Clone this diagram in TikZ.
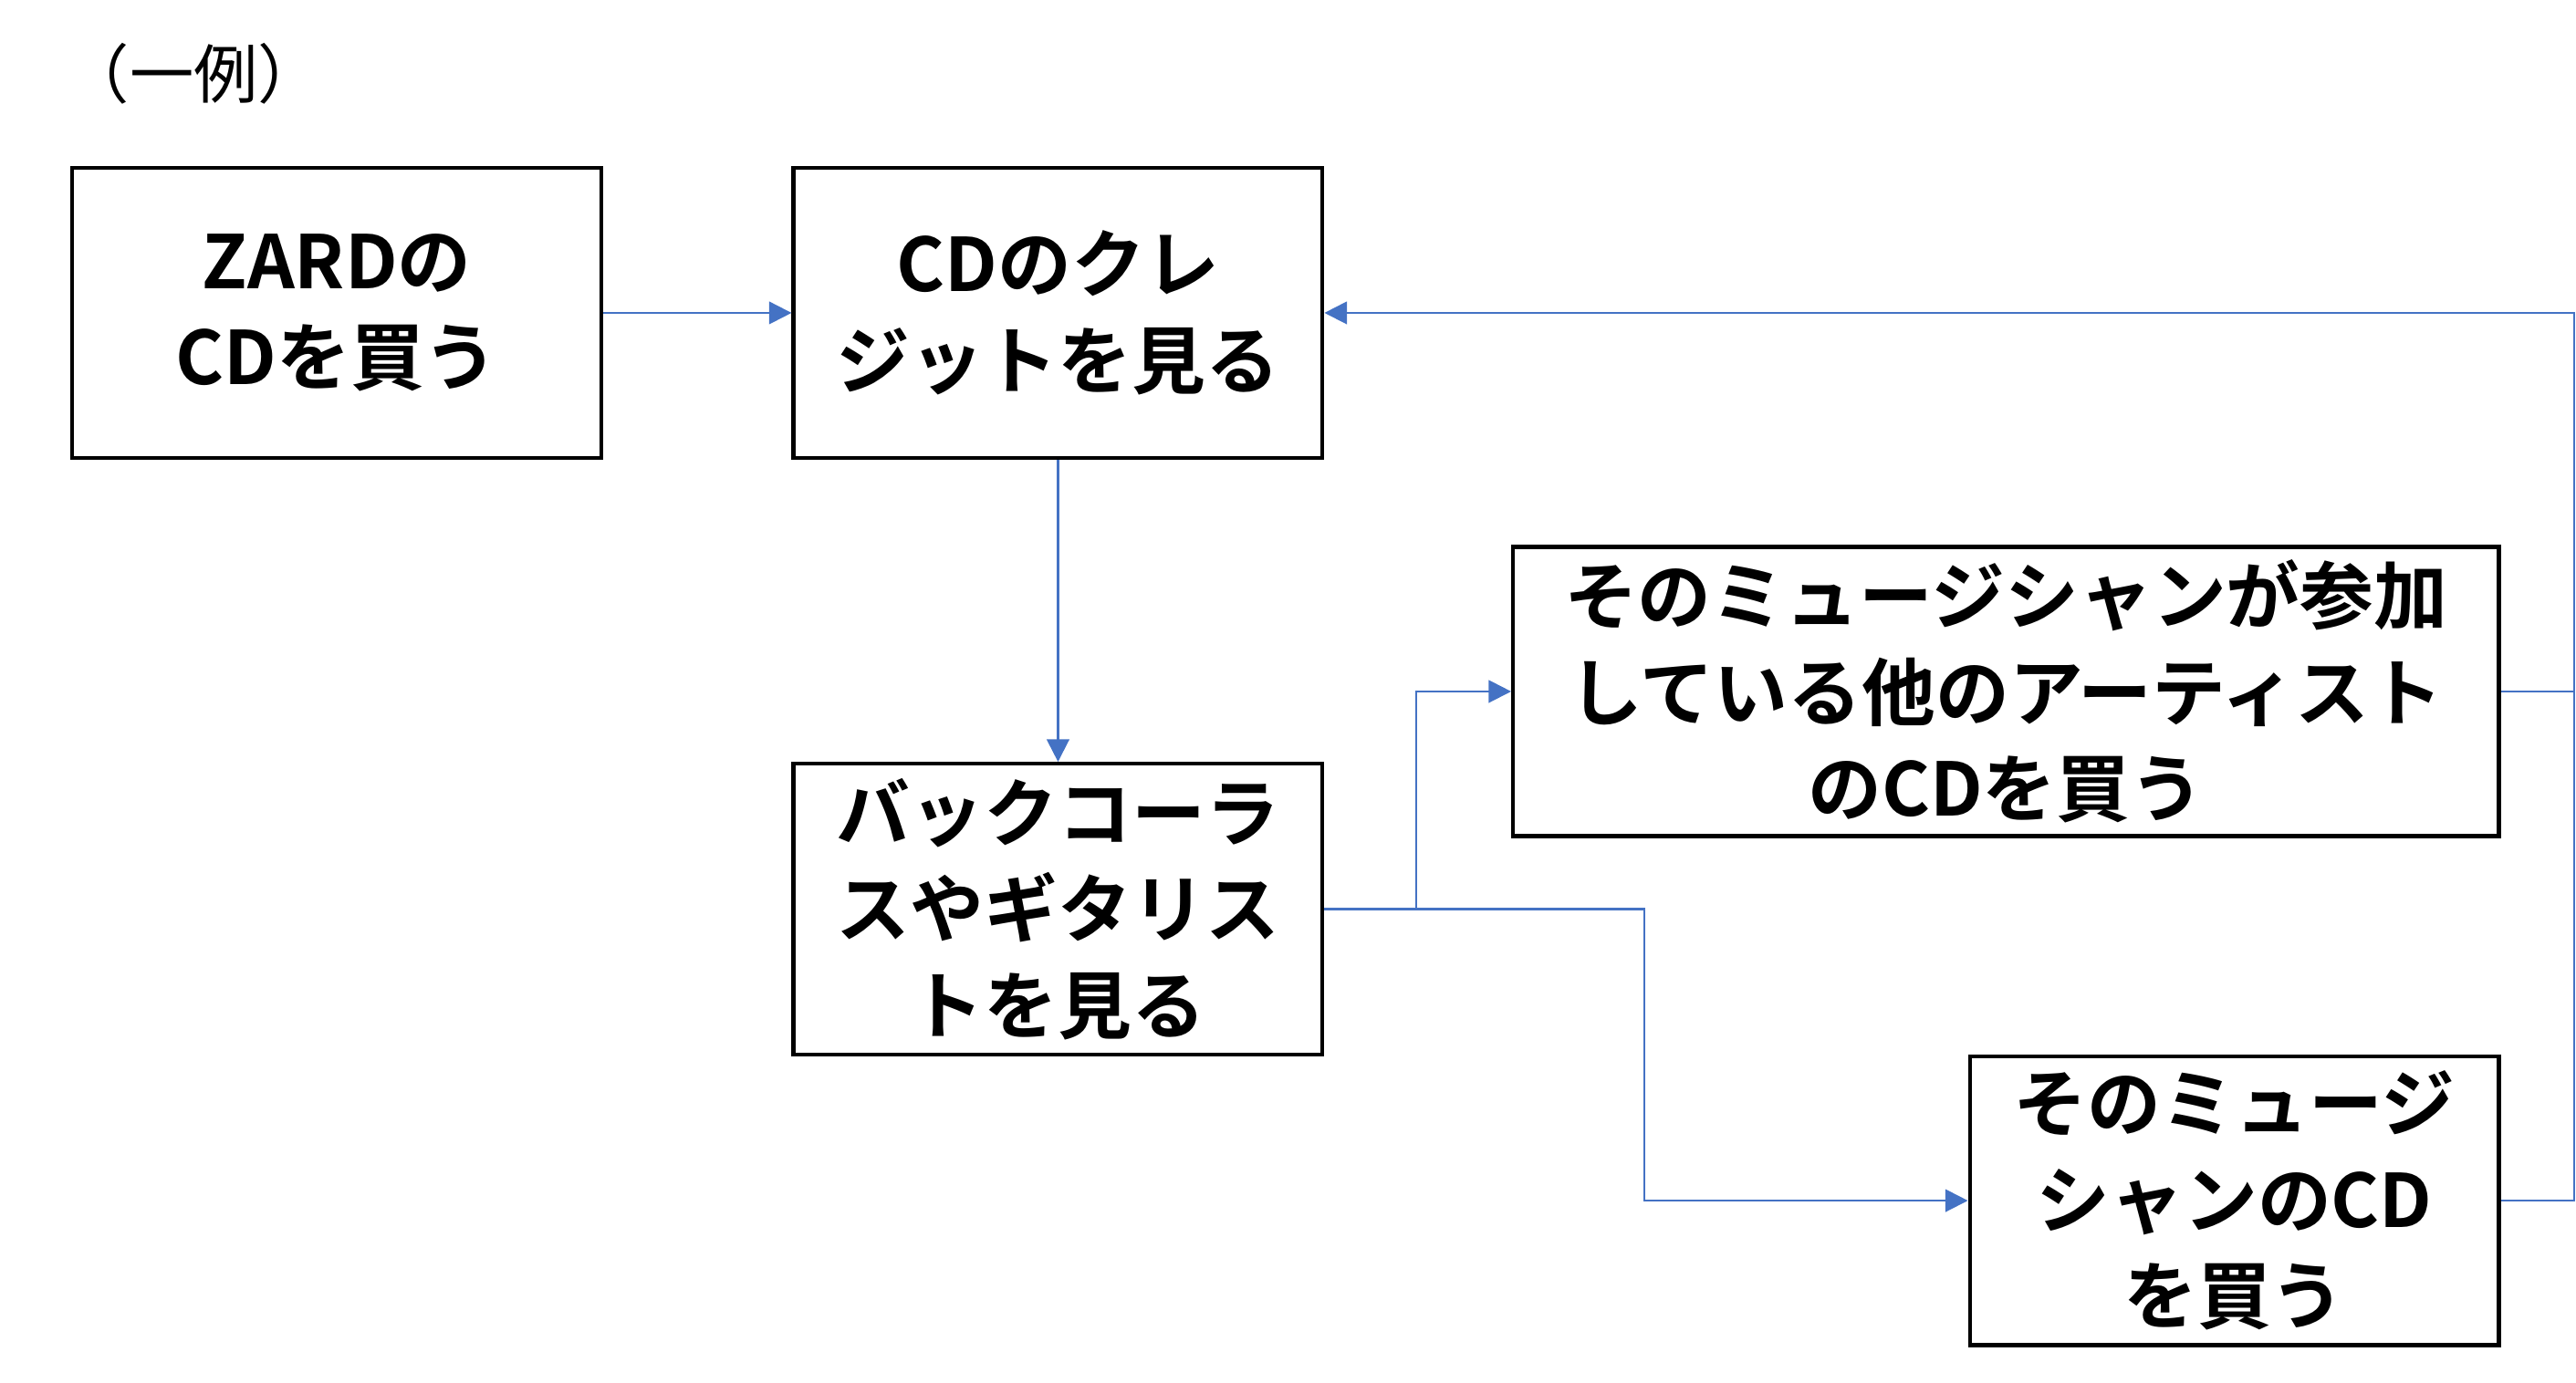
\documentclass[tikz,border=0pt]{standalone}
\usepackage{fontspec}
\setmainfont{Noto Sans CJK JP}[BoldFont={Noto Sans CJK JP Bold}]
\usetikzlibrary{arrows.meta}
\definecolor{linkblue}{RGB}{68,114,196}
\tikzstyle{flowbox} = [rectangle, draw=black, line width=1.2pt, align=center, font=\fontsize{23}{30}\selectfont\bfseries, inner sep=0pt]
\tikzstyle{arrow} = [draw=linkblue, line width=0.6pt, -{Triangle[length=7pt,width=7pt]}]
\tikzstyle{link} = [draw=linkblue, line width=0.6pt]

\begin{document}
\begin{tikzpicture}[x=0.018cm, y=-0.018cm]
        \useasboundingbox (0,0) rectangle (1568,842);
        \node (title) at (118,45) {\fontsize{20}{24}\selectfont （一例）};

        \node (buyZard) [flowbox, minimum width=322*0.018cm, minimum height=177*0.018cm] at (205,190.5) {ZARDの\\CDを買う};
        \node (credit) [flowbox, minimum width=322*0.018cm, minimum height=177*0.018cm] at (644,190.5) {CDのクレ\\ジットを見る};
        \node (chorus) [flowbox, minimum width=322*0.018cm, minimum height=177*0.018cm] at (644,553.5) {バックコーラ\\スやギタリス\\トを見る};
        \node (otherArtist) [flowbox, minimum width=600*0.018cm, minimum height=176*0.018cm] at (1221,421) {そのミュージシャンが参加\\している他のアーティスト\\のCDを買う};
        \node (musician) [flowbox, minimum width=322*0.018cm, minimum height=176*0.018cm] at (1360,731) {そのミュージ\\シャンのCD\\を買う};

        \coordinate (split1) at (862,553.5);
        \coordinate (split2) at (1001,553.5);
        \coordinate (back) at (1567,421);

        \draw [arrow] (buyZard) -- (credit);
        \draw [arrow] (credit) -- (chorus);
        \draw [arrow] (chorus.east) -- (split1) |- (otherArtist.west);
        \draw [arrow] (split1) -- (split2) |- (musician.west);
        \draw [link] (otherArtist.east) -- (back);
        \draw [arrow] (musician.east) -| (back) |- (credit.east);

    \end{tikzpicture}
\end{document}
